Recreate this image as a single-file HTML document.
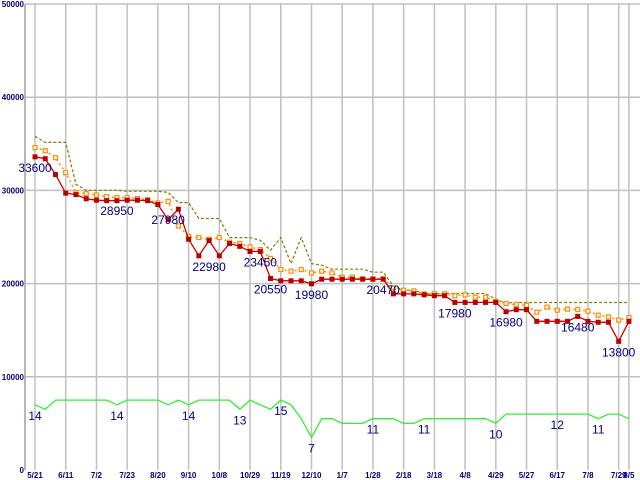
<!DOCTYPE html>
<html><head><meta charset="utf-8"><style>
html,body{margin:0;padding:0;background:#fff;}
svg{display:block;}
text{font-family:"Liberation Sans",sans-serif;}
</style></head><body>
<svg id="chart" width="640" height="480" xmlns="http://www.w3.org/2000/svg"></svg>
<script>
const dateLabels=["5/21","6/11","7/2","7/23","8/20","9/10","10/8","10/29","11/19","12/10","1/7","1/28","2/18","3/18","4/8","4/29","5/27","6/17","7/8","7/29","8/5"];
const dateIdx=[0,3,6,9,12,15,18,21,24,27,30,33,36,39,42,45,48,51,54,57,58];
const yTicks=[0,10000,20000,30000,40000,50000];
const minPrice=[33600,33400,31700,29700,29550,29100,28950,28900,28900,28950,28950,28900,28480,26870,27980,24760,22980,24620,22980,24300,24000,23450,23450,20550,20300,20300,20300,19980,20470,20470,20470,20470,20470,20470,20470,18900,18900,18900,18800,18700,18700,17980,17980,17980,17980,17980,16980,17200,17200,15950,15950,15950,15950,16480,15950,15850,15850,13800,15950];
const avgPrice=[34590,34260,33510,31900,29760,29650,29510,29330,29230,29230,29120,29010,28650,28830,26180,25050,24940,24760,24940,24440,24300,23930,23650,22700,21510,21330,21510,21150,21330,21150,20690,20690,20510,20510,20510,19540,19290,19220,18900,18900,18900,18690,18790,18540,18540,18110,17870,17760,17680,16930,17470,17150,17260,17220,17040,16610,16430,16080,16370];
const maxPrice=[35800,35150,35150,35150,30650,30010,30010,30010,30010,29900,29900,29900,29900,29790,28690,28690,26980,26980,26980,24940,24940,24940,24650,23580,24940,22150,24940,22150,21970,21540,21540,21540,21540,21220,21220,19720,19290,19290,18940,18940,18940,18940,18940,18940,18940,18300,17930,17970,17970,17970,17970,17970,17970,17970,17970,17970,17970,17970,17970];
const shopCount=[14,13,15,15,15,15,15,15,14,15,15,15,15,14,15,14,15,15,15,15,13,15,14,13,15,14,11,7,11,11,10,10,10,11,11,11,10,10,11,11,11,11,11,11,11,10,12,12,12,12,12,12,12,12,12,11,12,12,11];
const priceLabelIdx=[0,8,13,17,22,23,27,34,41,46,53,57];
const priceLabelVal=[33600,28950,27980,22980,23450,20550,19980,20470,17980,16980,16480,13800];
const countLabelIdx=[0,8,15,20,24,27,33,38,45,51,55];
const countLabelVal=[14,14,14,13,15,7,11,11,10,12,11];

const NS="http://www.w3.org/2000/svg";
const svg=document.getElementById('chart');
const X0=25,X1=640,Y0=470,Y1=4;
function xs(i){return 35+i*10.24;}
function ys(v){return Y0-(v/50000)*(Y0-Y1);}
function yc(c){return ys(c*500);}
function mk(tag,attrs,parent){const e=document.createElementNS(NS,tag);for(const k in attrs)e.setAttribute(k,attrs[k]);(parent||svg).appendChild(e);return e;}

const grid=mk('g',{});


yTicks.forEach(v=>{
  if(v>0){const l=mk('line',{x1:X0,x2:X1,y1:ys(v),y2:ys(v),stroke:'#c0c0c0','stroke-width':1.5},grid);
  
  }
  const t=mk('text',{x:24,y:ys(v)+3,'text-anchor':'end','font-size':8,'font-weight':'bold',fill:'#000080'});
  t.textContent=v;
  
  
});
dateIdx.forEach((i,k)=>{
  const l=mk('line',{x1:xs(i),x2:xs(i),y1:Y1,y2:Y0,stroke:'#c0c0c0','stroke-width':1.5},grid);
  
  
  const t=mk('text',{x:xs(i),y:478,'text-anchor':'middle','font-size':8,'font-weight':'bold',fill:'#000080'});
  t.textContent=dateLabels[k];
  
  
});
const ax=mk('line',{x1:X0,x2:X0,y1:Y1,y2:Y0,stroke:'#a0a0a0','stroke-width':1.5});



function pts(arr,f){return arr.map((v,i)=>xs(i).toFixed(1)+','+f(v).toFixed(1)).join(' ');}
const gl=mk('polyline',{points:pts(shopCount,yc),fill:'none',stroke:'#33ee33','stroke-width':1.3});


const ml=mk('polyline',{points:pts(maxPrice,ys),fill:'none',stroke:'#808000','stroke-width':1.2,'stroke-dasharray':'3,2'});


const al=mk('polyline',{points:pts(avgPrice,ys),fill:'none',stroke:'#ff8c00','stroke-width':1.5,'stroke-dasharray':'2,3'});


avgPrice.forEach((v,i)=>{
  const r=mk('rect',{x:xs(i)-2,y:ys(v)-2,width:4,height:4,fill:'#fff',stroke:'#ff8c00','stroke-width':1.2});
  
  
});
const rl=mk('polyline',{points:pts(minPrice,ys),fill:'none',stroke:'#cc0000','stroke-width':1.3});


minPrice.forEach((v,i)=>{
  const r=mk('rect',{x:xs(i)-2.5,y:ys(v)-2.5,width:5,height:5,fill:'#bb0000'});
  
  
});
priceLabelIdx.forEach((i,k)=>{
  const t=mk('text',{x:xs(i),y:ys(priceLabelVal[k])+15,'text-anchor':'middle','font-size':12,fill:'#000080'});
  t.textContent=priceLabelVal[k];
  
  
});
countLabelIdx.forEach((i,k)=>{
  const t=mk('text',{x:xs(i),y:yc(countLabelVal[k])+15,'text-anchor':'middle','font-size':12,fill:'#000080'});
  t.textContent=countLabelVal[k];
  
  
});
</script>
</body></html>
